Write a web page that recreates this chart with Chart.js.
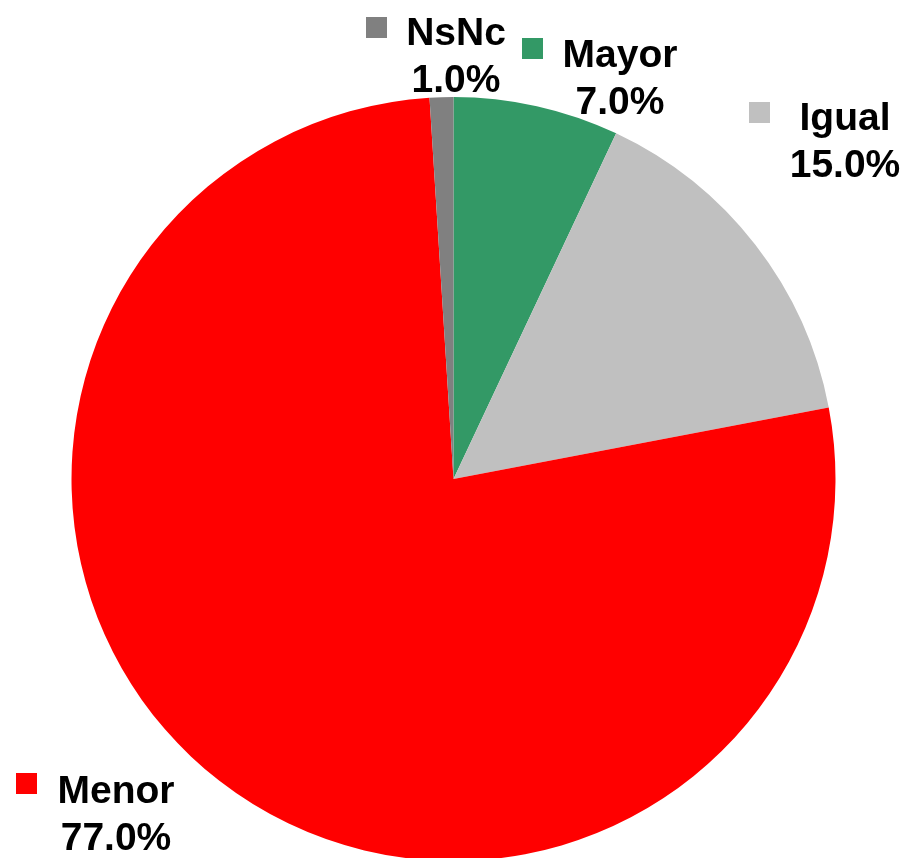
<!DOCTYPE html>
<html>
<head>
<meta charset="utf-8">
<script src="https://cdn.jsdelivr.net/npm/chart.js@4.4.1/dist/chart.umd.min.js"></script>
<style>
    html, body { margin: 0; padding: 0; background: #ffffff; overflow: hidden; }
    #wrap { position: relative; width: 907px; height: 858px; }
</style>
</head>
<body>
<div id="wrap"><canvas id="pie-chart"></canvas></div>
<script>
// Chart data (order: clockwise from 12 o'clock)
const categories = ['Mayor', 'Igual', 'Menor', 'NsNc'];
const shares = [7.0, 15.0, 77.0, 1.0];
const sliceColors = ['#339966', '#C0C0C0', '#FF0000', '#808080'];

// Where each label sits: text centre x, first baseline y, key square left/top
const labelLayout = {
    'Mayor': { cx: 620, y: 67, sx: 522, sy: 38 },
    'Igual': { cx: 845, y: 130, sx: 749, sy: 102 },
    'Menor': { cx: 116, y: 803, sx: 16, sy: 773 },
    'NsNc':  { cx: 456, y: 45, sx: 366, sy: 17 }
};

const outsideLabels = {
    id: 'outsideLabels',
    afterDraw: function(chart) {
        const ctx = chart.ctx;
        const data = chart.data.datasets[0].data;
        ctx.save();
        ctx.font = 'bold 39px "Liberation Sans", Arial, sans-serif';
        ctx.textAlign = 'center';
        ctx.textBaseline = 'alphabetic';
        chart.data.labels.forEach(function(name, i) {
            const pos = labelLayout[name];
            if (!pos) return;
            // legend key square
            ctx.fillStyle = sliceColors[i];
            ctx.fillRect(pos.sx, pos.sy, 21, 21);
            // name and percentage
            ctx.fillStyle = '#000000';
            ctx.fillText(name, pos.cx, pos.y);
            ctx.fillText(data[i].toFixed(1) + '%', pos.cx, pos.y + 47);
        });
        ctx.restore();
    }
};

new Chart(document.getElementById('pie-chart'), {
    type: 'pie',
    data: {
        labels: categories,
        datasets: [{
            data: shares,
            backgroundColor: sliceColors,
            borderWidth: 0,
            radius: 382,
            clip: false
        }]
    },
    options: {
        responsive: true,
        maintainAspectRatio: false,
        animation: false,
        layout: {
            padding: { top: 100, bottom: 0, left: 71, right: 71 }
        },
        plugins: {
            legend: { display: false },
            tooltip: { enabled: false }
        }
    },
    plugins: [outsideLabels]
});
</script>
</body>
</html>
